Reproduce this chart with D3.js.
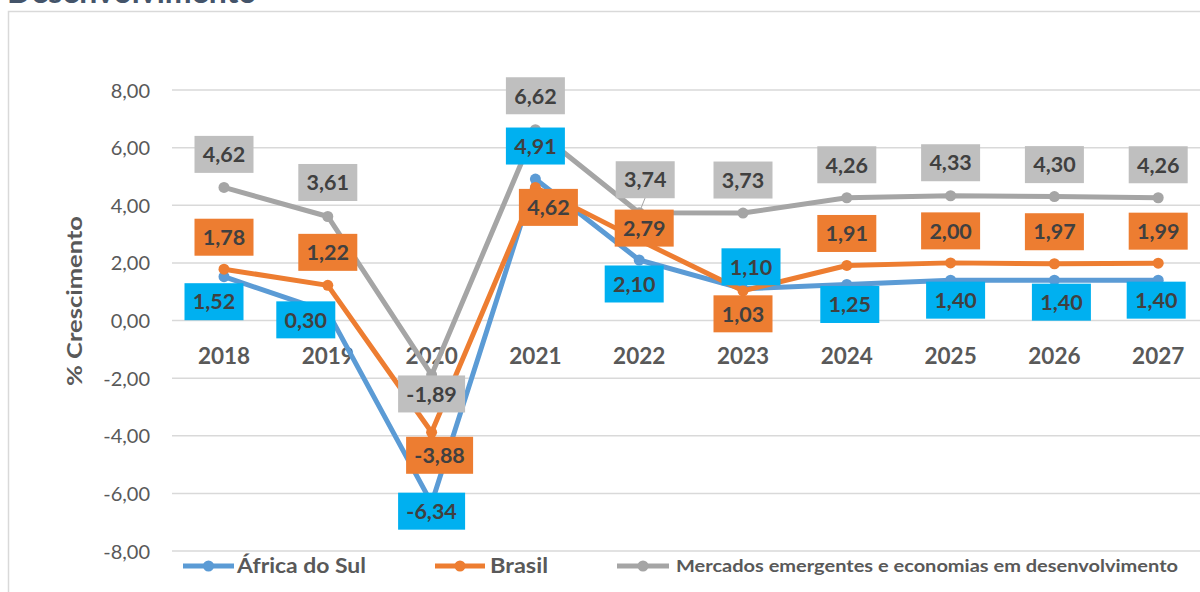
<!DOCTYPE html>
<html>
<head>
<meta charset="utf-8">
<script src="https://cdn.jsdelivr.net/npm/d3@7"></script>
<style>
  body { margin: 0; background: #fff; }
  svg { display: block; font-family: Lato, "Open Sans", sans-serif; }
</style>
</head>
<body>
<svg id="chart"></svg>
<script>
// Chart data
const years = ["2018", "2019", "2020", "2021", "2022", "2023", "2024", "2025", "2026", "2027"];
const africaDoSul = [1.52, 0.30, -6.34, 4.91, 2.10, 1.10, 1.25, 1.40, 1.40, 1.40];
const brasil = [1.78, 1.22, -3.88, 4.62, 2.79, 1.03, 1.91, 2.00, 1.97, 1.99];
const mercados = [4.62, 3.61, -1.89, 6.62, 3.74, 3.73, 4.26, 4.33, 4.30, 4.26];
const yTicks = [-8, -6, -4, -2, 0, 2, 4, 6, 8];

// label offsets from each point [dx, dy], as placed in the original
const offAfrica = [[-10, 25], [-22, 8], [0, 8], [0, -33], [-5, 24], [8, -22], [3, 20], [5, 20], [7, 22], [-2, 20]];
const offBrasil = [[0, -32], [0, -33], [8, 23], [13, 20], [5, -12], [0, 23], [0, -32], [0, -32], [0, -32], [0, -32]];
const offMercados = [[0, -33], [0, -34], [0, 19], [0, -34], [6, -33], [0, -33], [0, -33], [0, -33], [0, -32], [0, -33]];

const width = 1200;
const height = 592;

const svg = d3.select("#chart")
    .attr("width", width)
    .attr("height", height);

const fmt = d3.formatLocale({ decimal: ",", thousands: ".", grouping: [3], currency: ["", ""], minus: "-" }).format(".2f");

// outer frame
svg.append("rect")
    .attr("x", 8.5).attr("y", 11.5)
    .attr("width", 1300).attr("height", 700)
    .attr("fill", "none")
    .attr("stroke", "#d9d9d9")
    .attr("stroke-width", 1.5);

// title, cut off at the top like the original
svg.append("text")
    .attr("x", 7).attr("y", 3)
    .attr("fill", "#44546a")
    .attr("font-weight", "bold")
    .attr("font-size", 32)
    .text("Desenvolvimento");

// scales
const xScale = d3.scalePoint()
    .domain(years)
    .range([224, 1158.2]);

const yScale = d3.scaleLinear()
    .domain([-8, 8])
    .range([551, 90]);

// gridlines
svg.append("g")
    .selectAll("line")
    .data(yTicks)
    .enter().append("line")
    .attr("x1", 172).attr("x2", 1200)
    .attr("y1", d => yScale(d)).attr("y2", d => yScale(d))
    .attr("stroke", "#d9d9d9")
    .attr("stroke-width", 1.5);

// y axis
const yAxis = svg.append("g")
    .attr("transform", "translate(150, 0)")
    .call(d3.axisLeft(yScale).tickValues(yTicks).tickFormat(fmt).tickSize(0).tickPadding(0));
yAxis.select(".domain").remove();
yAxis.selectAll("text")
    .attr("font-family", "Lato, 'Open Sans', sans-serif")
    .attr("font-size", 20)
    .attr("fill", "#595959")
    .attr("dy", "0.35em");

// year labels under the zero line
svg.append("g")
    .selectAll("text")
    .data(years)
    .enter().append("text")
    .attr("x", d => xScale(d))
    .attr("y", 356)
    .attr("dy", "0.36em")
    .attr("text-anchor", "middle")
    .attr("font-weight", "bold")
    .attr("font-size", 22.5)
    .attr("fill", "#595959")
    .text(d => d);

// y axis title
svg.append("text")
    .attr("transform", "translate(75, 301) rotate(-90)")
    .attr("text-anchor", "middle")
    .attr("dy", "0.35em")
    .attr("font-weight", "bold")
    .attr("font-size", 21)
    .attr("fill", "#595959")
    .attr("textLength", 170)
    .attr("lengthAdjust", "spacingAndGlyphs")
    .text("% Crescimento");

const series = [
    { name: "África do Sul", values: africaDoSul, line: "#5b9bd5", box: "#00b0f0", off: offAfrica },
    { name: "Brasil", values: brasil, line: "#ed7d31", box: "#ed7d31", off: offBrasil },
    { name: "Mercados emergentes e economias em desenvolvimento", values: mercados, line: "#a5a5a5", box: "#bfbfbf", off: offMercados }
];

const line = d3.line()
    .x((d, i) => xScale(years[i]))
    .y(d => yScale(d));

// lines and markers
series.forEach(function(s) {
    svg.append("path")
        .datum(s.values)
        .attr("fill", "none")
        .attr("stroke", s.line)
        .attr("stroke-width", 5)
        .attr("stroke-linejoin", "round")
        .attr("d", line);
    svg.append("g")
        .selectAll("circle")
        .data(s.values)
        .enter().append("circle")
        .attr("cx", (d, i) => xScale(years[i]))
        .attr("cy", d => yScale(d))
        .attr("r", 5.5)
        .attr("fill", s.line);
});

// leader line for the gray 2022 label
svg.append("line")
    .attr("x1", xScale("2022")).attr("y1", yScale(mercados[4]))
    .attr("x2", xScale("2022") + offMercados[4][0]).attr("y2", yScale(mercados[4]) + offMercados[4][1] + 18)
    .attr("stroke", "#a5a5a5")
    .attr("stroke-width", 1);

// data labels
series.forEach(function(s) {
    const g = svg.append("g")
        .selectAll("g")
        .data(s.values)
        .enter().append("g")
        .attr("transform", (d, i) => `translate(${xScale(years[i]) + s.off[i][0]}, ${yScale(d) + s.off[i][1]})`);
    g.append("rect")
        .attr("x", d => d < 0 ? -33.5 : -29.5)
        .attr("y", -18.5)
        .attr("width", d => d < 0 ? 67 : 59)
        .attr("height", 37)
        .attr("fill", s.box);
    g.append("text")
        .attr("text-anchor", "middle")
        .attr("dy", "0.36em")
        .attr("font-weight", "bold")
        .attr("font-size", 21.5)
        .attr("fill", "#404040")
        .text(d => fmt(d));
});

// legend
const legendX = [[183, 234, 237, 129], [435, 485, 490, 58], [617, 669, 676, 502]];
const legendY = 566;
series.forEach(function(s, i) {
    const lx = legendX[i];
    svg.append("line")
        .attr("x1", lx[0]).attr("x2", lx[1])
        .attr("y1", legendY).attr("y2", legendY)
        .attr("stroke", s.line)
        .attr("stroke-width", 5);
    svg.append("circle")
        .attr("cx", (lx[0] + lx[1]) / 2)
        .attr("cy", legendY)
        .attr("r", 5.5)
        .attr("fill", s.line);
    svg.append("text")
        .attr("x", lx[2])
        .attr("y", legendY)
        .attr("dy", "0.35em")
        .attr("font-weight", "bold")
        .attr("font-size", i === 2 ? 17 : 21)
        .attr("fill", "#595959")
        .attr("textLength", lx[3])
        .attr("lengthAdjust", "spacingAndGlyphs")
        .text(s.name);
});
</script>
</body>
</html>
